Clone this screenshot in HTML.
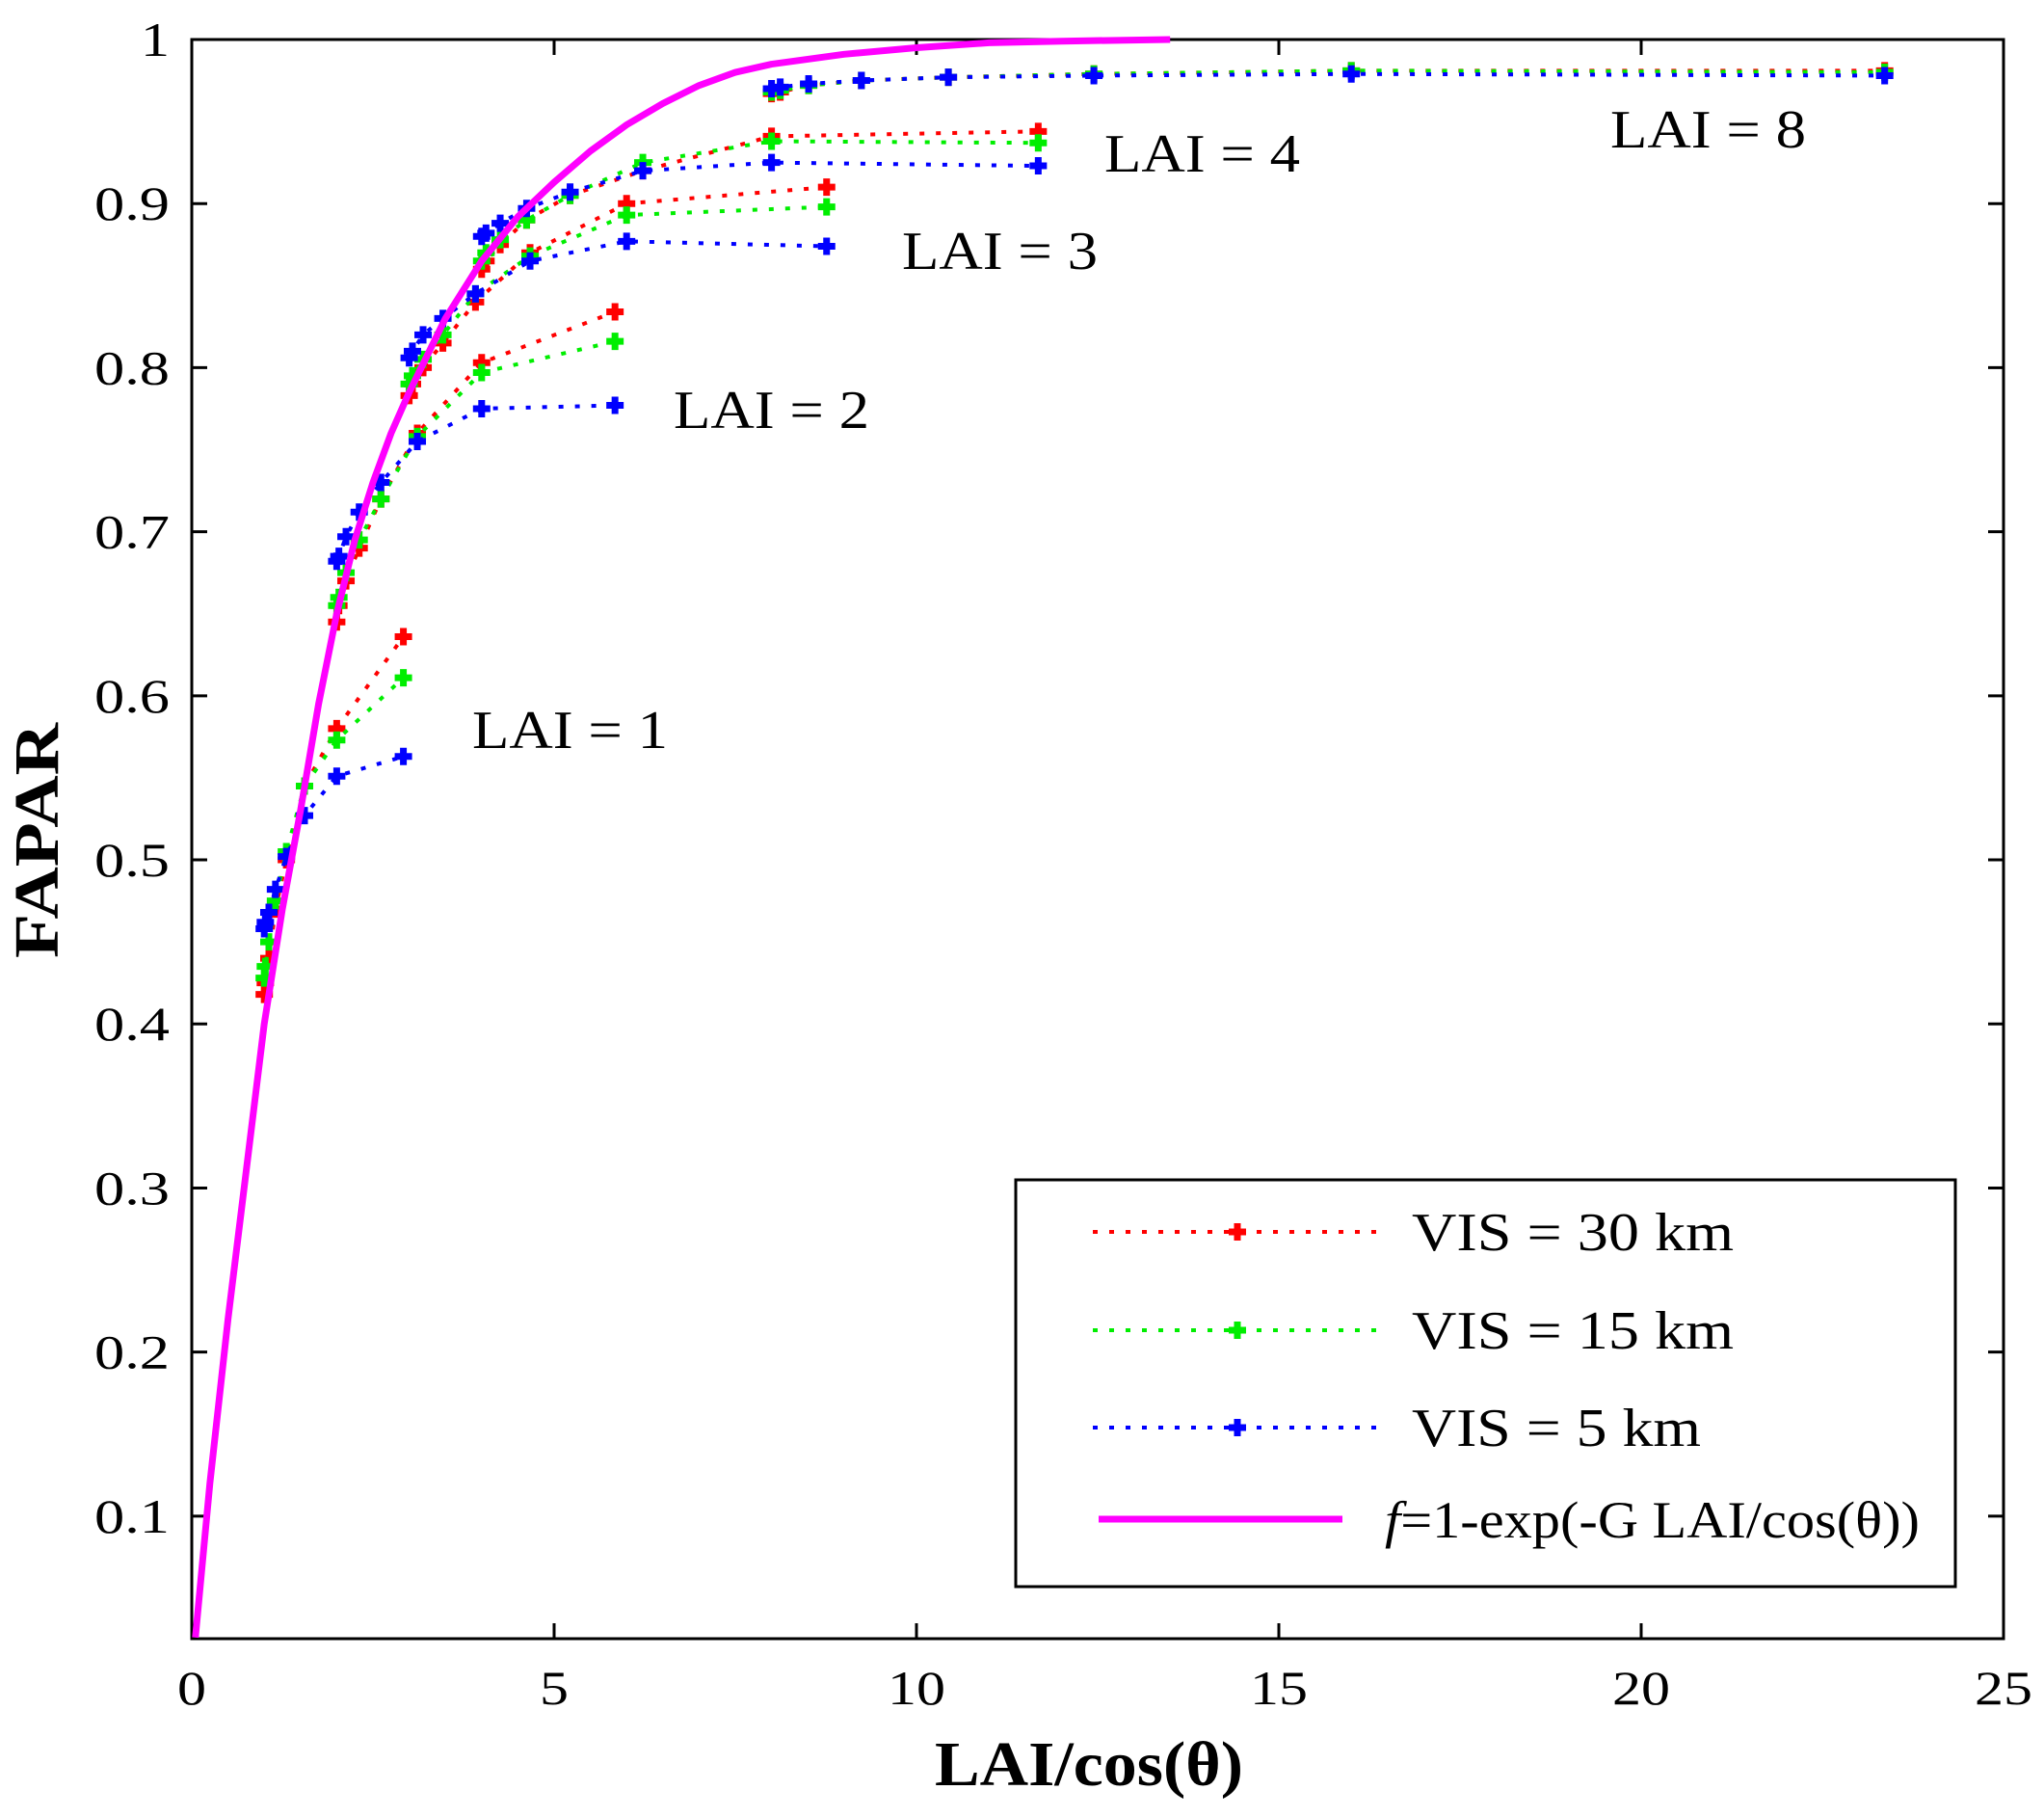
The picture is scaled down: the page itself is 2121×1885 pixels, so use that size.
<!DOCTYPE html>
<html><head><meta charset="utf-8"><style>
html,body{margin:0;padding:0;background:#fff}
svg{display:block}
text{font-family:"Liberation Serif",serif;fill:#000}
</style></head><body>
<svg id="chart" width="2121" height="1885" viewBox="0 0 2121 1885" xmlns="http://www.w3.org/2000/svg"></svg>
<script>
const xTicks=[0,5,10,15,20,25];
const yTicks=[0.1,0.2,0.3,0.4,0.5,0.6,0.7,0.8,0.9,1];
const yTickLabels=["0.1","0.2","0.3","0.4","0.5","0.6","0.7","0.8","0.9","1"];
const laiValues=[1,2,3,4,8];
const invCos=[1,1.015,1.064,1.155,1.305,1.556,2,2.92];
const vis30=[
 [0.418,0.425,0.44,0.47,0.50,0.545,0.58,0.636],
 [0.645,0.655,0.67,0.69,0.72,0.76,0.803,0.834],
 [0.783,0.79,0.80,0.815,0.84,0.87,0.90,0.91],
 [0.86,0.865,0.875,0.89,0.905,0.92,0.941,0.944],
 [0.967,0.968,0.972,0.975,0.977,0.979,0.981,0.981]];
const vis15=[
 [0.428,0.435,0.45,0.475,0.505,0.545,0.573,0.611],
 [0.655,0.66,0.675,0.695,0.72,0.758,0.797,0.816],
 [0.79,0.795,0.805,0.82,0.845,0.868,0.893,0.898],
 [0.865,0.87,0.878,0.89,0.905,0.925,0.938,0.937],
 [0.968,0.969,0.972,0.975,0.977,0.979,0.981,0.980]];
const vis5=[
 [0.458,0.462,0.468,0.482,0.502,0.527,0.551,0.563],
 [0.682,0.685,0.697,0.712,0.73,0.755,0.775,0.777],
 [0.806,0.81,0.82,0.83,0.845,0.865,0.877,0.874],
 [0.88,0.882,0.888,0.897,0.907,0.92,0.925,0.923],
 [0.97,0.971,0.973,0.975,0.977,0.978,0.979,0.978]];
const modelX=[0.05,0.25,0.5,0.75,1,1.25,1.5,1.75,2,2.25,2.5,2.75,3,3.5,4,4.5,5,5.5,6,6.5,7,7.5,8,9,10,11,12,13.5];
const modelY=[0.026,0.12,0.22,0.31,0.40,0.47,0.53,0.595,0.65,0.695,0.73,0.76,0.785,0.83,0.865,0.892,0.913,0.932,0.948,0.961,0.972,0.98,0.985,0.991,0.995,0.998,0.999,1.0];

const L=199,R=2079,T=41,B=1700,X0=0,X1=25,Y0=0.0253,Y1=1;
const sx=v=>L+(v-X0)/(X1-X0)*(R-L);
const sy=v=>B-(v-Y0)/(Y1-Y0)*(B-T);
const NS="http://www.w3.org/2000/svg";
const svg=document.getElementById('chart');
function mk(tag,attrs,parent){const e=document.createElementNS(NS,tag);for(const k in attrs)e.setAttribute(k,attrs[k]);(parent||svg).appendChild(e);return e;}
function tlen(s){let w=0;for(const c of s)w+=(c==='.')?18:30;return w;}

const box=mk('rect',{x:L,y:T,width:R-L,height:B-T,fill:'none',stroke:'#000','stroke-width':3});


xTicks.forEach(t=>{
  const x=sx(t);
  const a=mk('path',{d:`M${x},${B}v-16M${x},${T}v16`,stroke:'#000','stroke-width':3});
  
  
  const s=String(t);
  const tx=mk('text',{x:x,y:1768,'font-size':50,'text-anchor':'middle',textLength:tlen(s),lengthAdjust:'spacingAndGlyphs'});
  tx.textContent=s;
  
  
});
yTicks.forEach((t,i)=>{
  const y=sy(t);
  const a=mk('path',{d:`M${L},${y}h16M${R},${y}h-16`,stroke:'#000','stroke-width':3});
  
  
  const s=yTickLabels[i];
  const tx=mk('text',{x:176,y:y+17,'font-size':50,'text-anchor':'end',textLength:tlen(s),lengthAdjust:'spacingAndGlyphs'});
  tx.textContent=s;
  
  
});
const xt=mk('text',{x:1130,y:1852,'font-size':66,'font-weight':'bold','text-anchor':'middle',textLength:320,lengthAdjust:'spacingAndGlyphs'});
xt.textContent='LAI/cos(θ)';


const yt=mk('text',{x:0,y:0,'font-size':66,'font-weight':'bold','text-anchor':'middle',textLength:244,lengthAdjust:'spacingAndGlyphs',transform:'translate(60,872) rotate(-90)'});
yt.textContent='FAPAR';



function marker(x,y,color,parent){
  const m=mk('path',{d:`M${x-9},${y}h18M${x},${y-9}v18`,stroke:color,'stroke-width':7},parent);
  
  
}
function drawSeries(data,color,name){
  const g=mk('g',{});
  
  
  data.forEach((row,li)=>{
    const pts=row.map((v,i)=>[sx(laiValues[li]*invCos[i]),sy(v)]);
    const p=mk('polyline',{points:pts.map(p=>p.join(',')).join(' '),fill:'none',stroke:color,'stroke-width':4,'stroke-dasharray':'5 12'},g);
    
    
    pts.forEach(q=>marker(q[0],q[1],color,g));
  });
}
drawSeries(vis30,'#ff0000','vis-30-series');
drawSeries(vis15,'#00ee00','vis-15-series');
drawSeries(vis5,'#0000ff','vis-5-series');
const model=mk('polyline',{points:modelX.map((x,i)=>sx(x)+','+sy(modelY[i])).join(' '),fill:'none',stroke:'#ff00ff','stroke-width':7,'stroke-linejoin':'round'});



const laiLabels=[["LAI = 1",490,776],["LAI = 2",699,444],["LAI = 3",936,279],["LAI = 4",1146,178],["LAI = 8",1671,153]];
laiLabels.forEach(l=>{
  const t=mk('text',{x:l[1],y:l[2],'font-size':56,textLength:203,lengthAdjust:'spacingAndGlyphs'});
  t.textContent=l[0];
  
  
});

const lg=mk('g',{});


mk('rect',{x:1054,y:1224,width:975,height:422,fill:'#fff',stroke:'#000','stroke-width':3},lg);
const entries=[['#ff0000','VIS = 30 km',1278,334],['#00ee00','VIS = 15 km',1380,334],['#0000ff','VIS = 5 km',1481,300]];
entries.forEach(e=>{
  const ln=mk('line',{x1:1134,x2:1431,y1:e[2],y2:e[2],stroke:e[0],'stroke-width':4,'stroke-dasharray':'5 12'},lg);
  
  
  marker(1284,e[2],e[0],lg);
  const t=mk('text',{x:1465,y:e[2]+19,'font-size':56,textLength:e[3],lengthAdjust:'spacingAndGlyphs'},lg);
  t.textContent=e[1];
  
  
});
const ml=mk('line',{x1:1140,x2:1393,y1:1576,y2:1576,stroke:'#ff00ff','stroke-width':7},lg);


const mt=mk('text',{x:1437,y:1595,'font-size':54,textLength:555,lengthAdjust:'spacingAndGlyphs'},lg);
mt.innerHTML='<tspan font-style="italic">f</tspan>=1-exp(-G LAI/cos(θ))';


</script>
</body></html>
